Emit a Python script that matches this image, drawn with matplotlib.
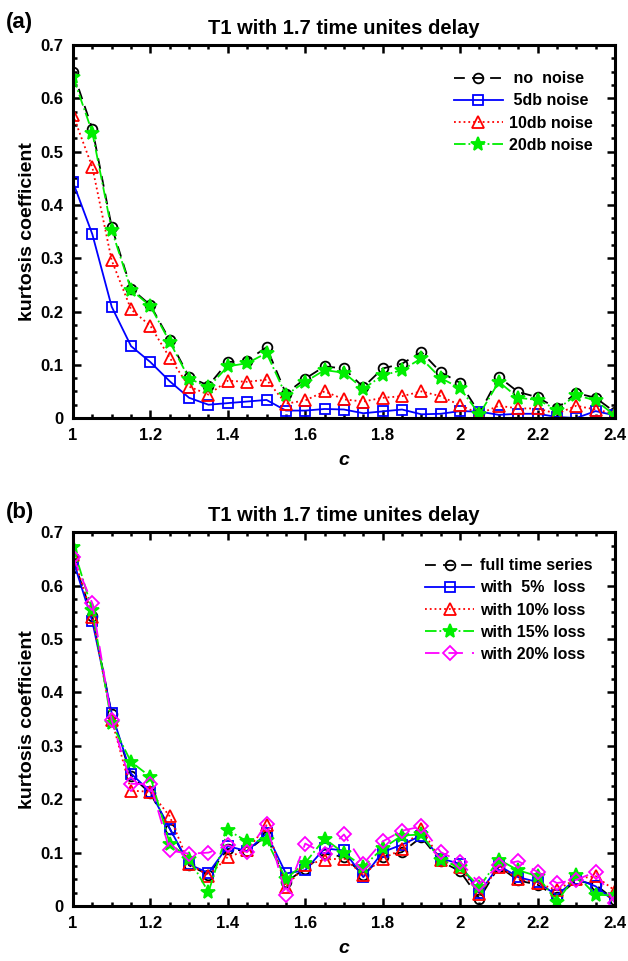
import numpy as np
import matplotlib
matplotlib.use("Agg")
import matplotlib.pyplot as plt
from matplotlib.ticker import MultipleLocator

plt.rcParams['font.family'] = ['Liberation Sans', 'DejaVu Sans']
plt.rcParams['font.weight'] = 'bold'

c = [1.0, 1.05, 1.1, 1.15, 1.2, 1.25, 1.3, 1.35, 1.4, 1.45, 1.5, 1.55, 1.6, 1.65, 1.7,
     1.75, 1.8, 1.85, 1.9, 1.95, 2.0, 2.05, 2.1, 2.15, 2.2, 2.25, 2.3, 2.35, 2.4]

# panel (a): noise
no_noise = [0.650, 0.543, 0.359, 0.243, 0.212, 0.146, 0.077, 0.061, 0.105, 0.108, 0.133,
            0.046, 0.074, 0.097, 0.093, 0.058, 0.093, 0.102, 0.124, 0.086, 0.066, 0.009,
            0.077, 0.049, 0.039, 0.018, 0.047, 0.038, 0.011]
db5 = [0.443, 0.345, 0.209, 0.135, 0.105, 0.069, 0.038, 0.025, 0.028, 0.031, 0.034,
       0.014, 0.014, 0.017, 0.016, 0.009, 0.0125, 0.016, 0.007, 0.008, 0.013, 0.012,
       0.006, 0.008, 0.008, 0.002, 0.0, 0.013, 0.005]
db10 = [0.569, 0.471, 0.296, 0.204, 0.173, 0.113, 0.059, 0.044, 0.070, 0.068, 0.072,
        0.027, 0.033, 0.050, 0.035, 0.031, 0.038, 0.041, 0.050, 0.041, 0.024, 0.008,
        0.023, 0.018, 0.018, 0.008, 0.023, 0.016, 0.008]
db20 = [0.641, 0.536, 0.353, 0.241, 0.210, 0.143, 0.074, 0.058, 0.097, 0.103, 0.122,
        0.043, 0.068, 0.090, 0.085, 0.055, 0.080, 0.090, 0.112, 0.075, 0.056, 0.007,
        0.068, 0.038, 0.034, 0.016, 0.043, 0.033, 0.005]

# panel (b): data loss
full = [0.651, 0.543, 0.359, 0.244, 0.211, 0.145, 0.076, 0.059, 0.107, 0.103, 0.132,
        0.045, 0.070, 0.098, 0.092, 0.059, 0.092, 0.101, 0.129, 0.084, 0.065, 0.014,
        0.074, 0.048, 0.040, 0.017, 0.048, 0.040, 0.011]
loss5 = [0.648, 0.533, 0.361, 0.248, 0.214, 0.145, 0.078, 0.062, 0.112, 0.103, 0.136,
         0.061, 0.067, 0.108, 0.104, 0.054, 0.101, 0.115, 0.132, 0.089, 0.079, 0.024,
         0.076, 0.054, 0.045, 0.020, 0.051, 0.037, 0.008]
loss10 = [0.657, 0.542, 0.349, 0.216, 0.214, 0.168, 0.079, 0.057, 0.092, 0.104, 0.151,
          0.036, 0.076, 0.087, 0.089, 0.059, 0.089, 0.106, 0.145, 0.086, 0.073, 0.022,
          0.074, 0.051, 0.043, 0.030, 0.051, 0.056, 0.029]
loss15 = [0.673, 0.554, 0.342, 0.270, 0.242, 0.117, 0.089, 0.026, 0.142, 0.121, 0.123,
          0.051, 0.081, 0.126, 0.099, 0.074, 0.108, 0.132, 0.134, 0.086, 0.073, 0.036,
          0.087, 0.067, 0.056, 0.008, 0.058, 0.021, 0.020]
loss20 = [0.654, 0.567, 0.348, 0.229, 0.228, 0.104, 0.098, 0.100, 0.114, 0.101, 0.154,
          0.020, 0.117, 0.098, 0.134, 0.079, 0.121, 0.141, 0.149, 0.101, 0.083, 0.042,
          0.076, 0.084, 0.064, 0.043, 0.049, 0.064, 0.006]

fig = plt.figure(figsize=(6.28, 9.61), dpi=100)
ax1 = fig.add_axes([0.1162, 0.565, 0.863, 0.388])
ax2 = fig.add_axes([0.1162, 0.0572, 0.863, 0.389])

mfc = 'none'
ms = 7
mew = 1.3
lw = 1.3

ax1.plot(c, no_noise, color='k', ls=(0, (6, 4)), lw=lw, marker='o', ms=ms, mfc=mfc, mew=mew, label=' no  noise')
ax1.plot(c, db5, color='#0000ff', ls='-', lw=lw, marker='s', ms=ms - 0.5, mfc=mfc, mew=mew, label=' 5db noise')
ax1.plot(c, db10, color='#ff0000', ls=':', lw=lw, marker='^', ms=ms + 2, mfc=mfc, mew=mew, label='10db noise')
ax1.plot(c, db20, color='#00ee00', ls='-.', lw=lw, marker='*', ms=ms + 3, mfc='#00ee00', mew=mew, label='20db noise')

ax2.plot(c, full, color='k', ls=(0, (6, 4)), lw=lw, marker='o', ms=ms, mfc=mfc, mew=mew, label='full time series')
ax2.plot(c, loss5, color='#0000ff', ls='-', lw=lw, marker='s', ms=ms - 0.5, mfc=mfc, mew=mew, label='with  5%  loss')
ax2.plot(c, loss10, color='#ff0000', ls=':', lw=lw, marker='^', ms=ms + 2, mfc=mfc, mew=mew, label='with 10% loss')
ax2.plot(c, loss15, color='#00ee00', ls='-.', lw=lw, marker='*', ms=ms + 3, mfc='#00ee00', mew=mew, label='with 15% loss')
ax2.plot(c, loss20, color='#ff00ff', ls=(0, (8, 5)), lw=lw, marker='D', ms=ms, mfc=mfc, mew=mew, label='with 20% loss')

for ax, tag, fy in [(ax1, '(a)', 0.977), (ax2, '(b)', 0.467)]:
    ax.set_xlim(1, 2.4)
    ax.set_ylim(0, 0.7)
    ax.xaxis.set_minor_locator(MultipleLocator(0.05))
    ax.yaxis.set_minor_locator(MultipleLocator(0.025))
    ax.set_xticks(np.arange(1, 2.41, 0.2))
    ax.set_xticklabels(['1', '1.2', '1.4', '1.6', '1.8', '2', '2.2', '2.4'])
    ax.set_yticks(np.arange(0, 0.71, 0.1))
    ax.set_yticklabels(['0', '0.1', '0.2', '0.3', '0.4', '0.5', '0.6', '0.7'])
    ax.tick_params(which='both', direction='in', top=True, right=True, width=1.8)
    ax.tick_params(which='major', length=6, labelsize=12, pad=7)
    ax.tick_params(which='minor', length=3)
    for lab in ax.get_xticklabels() + ax.get_yticklabels():
        lab.set_fontweight('bold')
    for s in ax.spines.values():
        s.set_linewidth(2.2)
    ax.set_title('T1 with 1.7 time unites delay', fontsize=14.5, fontweight='bold', pad=8)
    ax.set_xlabel('c', fontsize=14, fontweight='bold', style='italic', labelpad=7)
    ax.set_ylabel('kurtosis coefficient', fontsize=14, fontweight='bold', labelpad=3)
    fig.text(0.010, fy, tag, fontsize=16, fontweight='bold', va='center')
    leg = ax.legend(loc='upper right', bbox_to_anchor=(1.0, 0.99), frameon=False,
                    fontsize=11.5, handlelength=3.1, handletextpad=0.35,
                    labelspacing=0.45, borderaxespad=1.0)
    for t in leg.get_texts():
        t.set_fontweight('bold')

fig.savefig('out.png', dpi=100)
